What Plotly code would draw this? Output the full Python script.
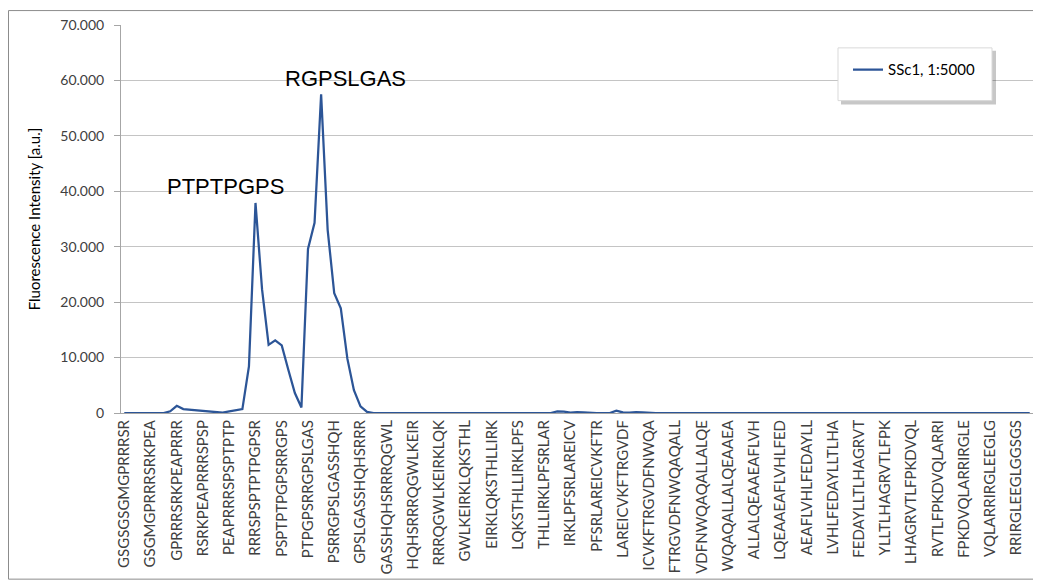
import plotly.graph_objects as go

# Peptide scan, one point per overlapping 15-mer (shift of one residue).
# Only every 4th peptide is labelled on the axis, as in the original.
TICK_LABELS = [
    "GSGSGSGMGPRRRSR", "GSGMGPRRRSRKPEA", "GPRRRSRKPEAPRRR", "RSRKPEAPRRRSPSP",
    "PEAPRRRSPSPTPTP", "RRRSPSPTPTPGPSR", "PSPTPTPGPSRRGPS", "PTPGPSRRGPSLGAS",
    "PSRRGPSLGASSHQH", "GPSLGASSHQHSRRR", "GASSHQHSRRRQGWL", "HQHSRRRQGWLKEIR",
    "RRRQGWLKEIRKLQK", "GWLKEIRKLQKSTHL", "EIRKLQKSTHLLIRK", "LQKSTHLLIRKLPFS",
    "THLLIRKLPFSRLAR", "IRKLPFSRLAREICV", "PFSRLAREICVKFTR", "LAREICVKFTRGVDF",
    "ICVKFTRGVDFNWQA", "FTRGVDFNWQAQALL", "VDFNWQAQALLALQE", "WQAQALLALQEAAEA",
    "ALLALQEAAEAFLVH", "LQEAAEAFLVHLFED", "AEAFLVHLFEDAYLL", "LVHLFEDAYLLTLHA",
    "FEDAYLLTLHAGRVT", "YLLTLHAGRVTLFPK", "LHAGRVTLFPKDVQL", "RVTLFPKDVQLARRI",
    "FPKDVQLARRIRGLE", "VQLARRIRGLEEGLG", "RRIRGLEEGLGGSGS",
]
TICK_POS = list(range(0, 140, 4))

SERIES_NAME = "SSc1, 1:5000"
SSC1_VALUES = [
    0, 0, 0, 0, 0, 0, 0, 300, 1300, 700,
    600, 500, 400, 250, 100, 50, 300, 550, 700, 8400,
    37900, 22300, 12300, 13100, 12200, 7800, 3600, 1000, 29600, 34300,
    57500, 33000, 21600, 18900, 9800, 4100, 1200, 200, 0, 0,
    0, 0, 0, 0, 0, 0, 0, 0, 0, 0,
    0, 0, 0, 0, 0, 0, 0, 0, 0, 0,
    0, 0, 0, 0, 0, 0, 300, 250, 50, 150,
    100, 0, 0, 0, 0, 400, 100, 50, 150, 100,
    0, 0, 0, 0, 0, 0, 0, 0, 0, 0,
    0, 0, 0, 0, 0, 0, 0, 0, 0, 0,
    0, 0, 0, 0, 0, 0, 0, 0, 0, 0,
    0, 0, 0, 0, 0, 0, 0, 0, 0, 0,
    0, 0, 0, 0, 0, 0, 0, 0, 0, 0,
    0, 0, 0, 0, 0, 0, 0, 0, 0,
]

PEAK_LABELS = ["PTPTPGPS", "RGPSLGAS"]
PEAK_LABEL_X = [15.5, 33.7]
PEAK_LABEL_Y = [40800, 60400]

# the page body has an 8px margin, so the figure is a bit smaller than
# the window and screen coordinates are shifted by OFF
OFF = 8
W, H = 1041 - OFF, 583 - OFF
L, R, T, B = 113, 8, 15, 170
PW, PH = W - L - R, H - T - B

LINE_BLUE = "#2c5597"
GRID = "#c4c4c4"
AXIS = "#a6a6a6"
TEXT = "#404040"
FONT = "Lato"


def px(x):
    """screen x -> paper x"""
    return (x - OFF - L) / PW


def py(y):
    """screen y -> paper y"""
    return (H - B - (y - OFF)) / PH


fig = go.Figure(
    go.Scatter(
        x=list(range(len(SSC1_VALUES))),
        y=SSC1_VALUES,
        mode="lines",
        name=SERIES_NAME,
        line=dict(color=LINE_BLUE, width=2.25),
    )
)

for txt, x, y in zip(PEAK_LABELS, PEAK_LABEL_X, PEAK_LABEL_Y):
    fig.add_annotation(
        x=x, y=y, text=txt, showarrow=False,
        font=dict(family="Liberation Sans", size=22, color="black"),
    )

# outer chart border
fig.add_shape(type="rect", xref="paper", yref="paper",
              x0=px(8.5), x1=px(1037), y0=py(580), y1=py(8.5),
              line=dict(color="#8c8c8c", width=1), layer="below")
# legend box with soft shadow
fig.add_shape(type="rect", xref="paper", yref="paper",
              x0=px(841), x1=px(996), y0=py(103), y1=py(49),
              fillcolor="rgba(0,0,0,0.22)", line=dict(width=0))
fig.add_shape(type="rect", xref="paper", yref="paper",
              x0=px(838), x1=px(992), y0=py(99), y1=py(46),
              fillcolor="white", line=dict(color="#d9d9d9", width=1))

fig.update_layout(
    width=W, height=H,
    margin=dict(l=L, r=R, t=T, b=B),
    paper_bgcolor="white", plot_bgcolor="white",
    separators=",.",
    font=dict(family=FONT, size=13, color=TEXT),
    showlegend=True,
    legend=dict(
        x=px(848), y=py(68), xanchor="left", yanchor="middle",
        bgcolor="rgba(0,0,0,0)", borderwidth=0,
        font=dict(size=15, color="black"),
        itemwidth=30,
    ),
    xaxis=dict(
        range=[-0.5, len(SSC1_VALUES) - 0.5],
        tickmode="array", tickvals=TICK_POS, ticktext=TICK_LABELS,
        tickangle=-90, tickfont=dict(size=15, color=TEXT),
        showgrid=False, zeroline=False,
        showline=True, linecolor=AXIS, linewidth=1,
        ticks="",
    ),
    yaxis=dict(
        range=[0, 70000], dtick=10000, tickformat=",d",
        tickfont=dict(size=14, color=TEXT),
        ticklabelstandoff=7,
        showgrid=True, gridcolor=GRID, gridwidth=1,
        zeroline=False,
        showline=True, linecolor=AXIS, linewidth=1,
        ticks="outside", ticklen=6, tickcolor=AXIS,
        title=dict(text="Fluorescence Intensity [a.u.]",
                   font=dict(size=15, color="black"), standoff=16),
    ),
)

fig.write_html("out.html")
